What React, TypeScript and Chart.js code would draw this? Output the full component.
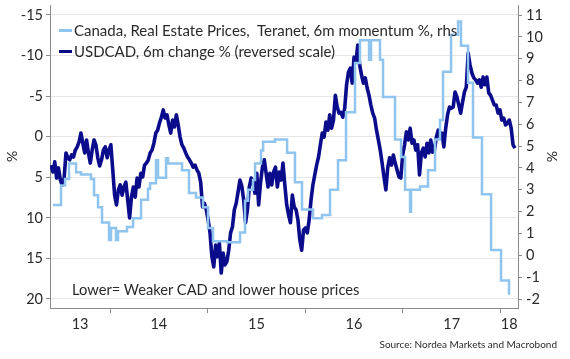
import React, { useEffect, useRef } from 'react';
import { Chart, registerables } from 'chart.js';

Chart.register(...registerables);

const FONT = 'Lato, "Open Sans", sans-serif';

// USDCAD, 6m change % (left axis, reversed) - weekly observations
const usdcadFirstWeek = 2013.3955; // decimal year of first observation
const usdcad6mChange = [
  3.5, 4.35, 3.1, 5.1, 3.85, 5.35, 5.95, 5.1, 2.0, 2.6,
  2.85, 2.25, 2.5, 1.65, 1.25, 0.65, -0.45, 0.8, 2.0, 0.4,
  2.0, 3.25, 1.65, 0.4, 1.0, 2.6, 3.6, 2.85, 1.65, 1.25,
  2.6, 1.65, 1.0, 4.1, 7.2, 8.4, 6.55, 5.95, 7.2, 6.2,
  5.6, 7.8, 10.0, 7.45, 6.2, 7.45, 5.1, 6.2, 4.5, 4.95,
  3.5, 3.25, 2.85, 2.0, 1.65, 0.8, -0.45, -0.8, -1.7, -2.4,
  -3.3, -2.3, -2.7, -1.45, -0.45, -2.05, -1.2, -2.7, -1.45, 0.05,
  1.0, 1.4, 2.0, 2.5, 2.85, 3.25, 3.75, 3.5, 4.1, 4.5,
  5.6, 8.65, 8.2, 9.0, 10.25, 11.85, 14.8, 16.05, 13.35, 14.8,
  13.1, 16.8, 14.35, 15.8, 15.4, 14.0, 11.85, 11.1, 9.0, 8.2,
  6.8, 5.35, 6.1, 7.8, 10.6, 9.0, 6.2, 5.1, 5.6, 6.95,
  4.5, 8.4, 5.7, 3.75, 2.85, 4.5, 6.2, 4.5, 5.95, 4.35,
  3.75, 6.2, 4.35, 5.35, 3.25, 5.95, 8.4, 9.65, 10.6, 7.2,
  8.65, 9.0, 10.25, 12.7, 14.0, 11.5, 11.25, 11.85, 10.25, 7.8,
  5.95, 4.7, 3.5, 2.5, 1.0, -0.45, 0.05, -1.8, -0.8, -2.7,
  -1.05, -2.05, -5.1, -3.65, -2.9, -3.0, -2.4, -3.5, -6.4, -7.95,
  -8.45, -6.6, -9.8, -9.2, -11.3, -8.85, -7.6, -6.6, -7.25, -6.0,
  -5.1, -3.9, -2.9, -2.3, -0.8, 0.4, 1.65, 3.25, 4.95, 6.55,
  3.85, 2.6, 3.5, 2.25, 3.25, 4.1, 4.95, 5.1, 2.25, 1.0,
  -0.6, 0.4, -1.05, 0.8, 0.4, 1.65, 1.0, 4.7, 2.0, 1.4,
  2.5, 0.8, 2.0, 0.4, 1.9, 1.65, 0.05, -0.8, 0.05, -0.45,
  1.25, -1.05, -2.7, -3.65, -3.5, -3.65, -5.5, -4.9, -3.9, -2.9,
  -4.25, -5.5, -6.1, -10.3, -8.85, -7.85, -7.25, -7.0, -6.6, -7.0,
  -6.1, -7.35, -6.4, -7.35, -5.4, -5.1, -4.5, -3.9, -3.9, -2.9,
  -3.3, -2.05, -2.3, -1.45, -1.7, -2.05, -1.05, 1.0, 1.4,
];

// Canada real estate prices, Teranet, 6m momentum % (right axis) - step changes
const reDates = [
  2013.416, 2013.498, 2013.539, 2013.580, 2013.652, 2013.703, 2013.805, 2013.836, 2013.877, 2013.918,
  2013.990, 2014.010, 2014.061, 2014.082, 2014.174, 2014.236, 2014.318, 2014.389, 2014.410, 2014.471,
  2014.492, 2014.574, 2014.594, 2014.738, 2014.809, 2014.881, 2014.953, 2015.004, 2015.055, 2015.199,
  2015.332, 2015.383, 2015.414, 2015.465, 2015.486, 2015.547, 2015.568, 2015.691, 2015.814, 2015.895,
  2015.967, 2016.080, 2016.172, 2016.254, 2016.336, 2016.418, 2016.510, 2016.561, 2016.654, 2016.674,
  2016.766, 2016.797, 2016.920, 2016.982, 2017.023, 2017.074, 2017.084, 2017.176, 2017.258, 2017.330,
  2017.381, 2017.412, 2017.494, 2017.566, 2017.596, 2017.668, 2017.719, 2017.811, 2017.904, 2018.006,
  2018.088,
];
const reMomentum = [
  2.3, 3.2, 3.5, 4.2, 3.8, 3.7, 3.5, 2.75, 2.2, 1.5,
  0.7, 1.25, 0.7, 1.1, 1.3, 1.7, 2.55, 3.05, 3.3, 4.35,
  3.55, 4.45, 4.2, 3.9, 2.85, 2.65, 2.2, 1.25, 0.65, 0.6,
  1.05, 2.5, 3.0, 3.45, 4.2, 4.8, 5.2, 5.3, 4.7, 3.35,
  2.1, 1.7, 1.85, 3.0, 4.35, 6.55, 8.8, 9.85, 8.95, 9.85,
  8.95, 7.25, 5.3, 4.5, 3.0, 2.0, 3.0, 3.15, 3.9, 5.3,
  6.2, 8.4, 10.1, 10.7, 9.6, 7.9, 5.4, 2.8, 0.25, -1.15,
  -1.8,
];

const leftTicks = [-15, -10, -5, 0, 5, 10, 15, 20];
const rightTicks = [-2, -1, 0, 1, 2, 3, 4, 5, 6, 7, 8, 9, 10, 11];
const yearBoundaries = [2014, 2015, 2016, 2017, 2018];
const yearLabels = ['13', '14', '15', '16', '17', '18'];
const yearLabelPositions = [2013.693, 2014.5, 2015.5, 2016.5, 2017.5, 2018.09];

const seriesNames = [
  'Canada, Real Estate Prices,  Teranet, 6m momentum %, rhs',
  'USDCAD, 6m change % (reversed scale)',
];
const LIGHT = '#8fc4ef';
const NAVY = '#0a0c8c';
const AXIS = '#8a8a8a';
const TEXT = '#2a2a2a';

export default function App() {
  const ref = useRef<HTMLCanvasElement>(null);

  useEffect(() => {
    const usdData = usdcad6mChange.map((v, i) => ({ x: usdcadFirstWeek + (i * 7) / 365.25, y: v }));
    const reData = reMomentum.map((v, i) => ({ x: reDates[i], y: v }));
    const xTicks = [...yearLabelPositions, ...yearBoundaries].sort((a, b) => a - b);
    const isBoundary = (v: number) => yearBoundaries.some((b) => Math.abs(b - v) < 1e-6);

    const chart = new Chart(ref.current as HTMLCanvasElement, {
      type: 'line',
      data: {
        datasets: [
          {
            label: seriesNames[0],
            data: reData,
            yAxisID: 'y2',
            borderColor: LIGHT,
            backgroundColor: LIGHT,
            borderWidth: 2.5,
            stepped: 'before',
            pointRadius: 0,
            fill: false,
            order: 0,
          },
          {
            label: seriesNames[1],
            data: usdData,
            yAxisID: 'y',
            borderColor: NAVY,
            backgroundColor: NAVY,
            borderWidth: 3.6,
            borderJoinStyle: 'round',
            pointRadius: 0,
            tension: 0,
            fill: false,
            order: 1,
          },
        ],
      },
      options: {
        animation: false,
        responsive: true,
        maintainAspectRatio: false,
        layout: { padding: { top: 5, left: 0, right: 0, bottom: 0 } },
        plugins: { legend: { display: false }, tooltip: { enabled: false } },
        scales: {
          x: {
            type: 'linear',
            min: 2013.385,
            max: 2018.18,
            afterBuildTicks: (s: any) => {
              s.ticks = xTicks.map((v) => ({ value: v }));
            },
            afterFit: (s: any) => {
              s.height = 51;
              s.paddingLeft = 0;
              s.paddingRight = 0;
            },
            ticks: {
              autoSkip: false,
              maxRotation: 0,
              minRotation: 0,
              padding: 3,
              color: TEXT,
              font: { family: FONT, size: 14.5 },
              callback: (v: any) => {
                const i = yearLabelPositions.findIndex((p) => Math.abs(p - v) < 1e-6);
                return i >= 0 ? yearLabels[i] : '';
              },
            },
            grid: {
              drawOnChartArea: false,
              tickLength: 5,
              tickColor: (c: any) => (c.tick && isBoundary(c.tick.value) ? AXIS : 'rgba(0,0,0,0)'),
            },
            border: { color: AXIS, width: 1 },
          },
          y: {
            type: 'linear',
            position: 'left',
            reverse: true,
            min: -16.23,
            max: 21.11,
            afterBuildTicks: (s: any) => {
              s.ticks = leftTicks.map((v) => ({ value: v }));
            },
            afterFit: (s: any) => {
              s.width = 50;
              s.paddingTop = 0;
              s.paddingBottom = 0;
            },
            ticks: { padding: 3, color: TEXT, font: { family: FONT, size: 14.5 } },
            grid: { color: '#e6e6e6', tickColor: AXIS, tickLength: 4 },
            border: { color: AXIS, width: 1 },
            title: {
              display: true,
              text: '%',
              color: TEXT,
              font: { family: FONT, size: 14 },
              padding: { top: 3.6, bottom: 0 },
            },
          },
          y2: {
            type: 'linear',
            position: 'right',
            min: -2.41,
            max: 11.46,
            afterBuildTicks: (s: any) => {
              s.ticks = rightTicks.map((v) => ({ value: v }));
            },
            afterFit: (s: any) => {
              s.width = 52;
              s.paddingTop = 0;
              s.paddingBottom = 0;
            },
            ticks: { padding: 4, color: TEXT, font: { family: FONT, size: 14.5 } },
            grid: { drawOnChartArea: false, tickColor: AXIS, tickLength: 4 },
            border: { color: AXIS, width: 1 },
            title: {
              display: true,
              text: '%',
              color: TEXT,
              font: { family: FONT, size: 14 },
              padding: { top: 9.6, bottom: 0 },
            },
          },
        },
      },
    } as any);
    return () => chart.destroy();
  }, []);

  const rowStyle: React.CSSProperties = {
    position: 'absolute',
    left: 59,
    height: 20,
    lineHeight: '20px',
    fontSize: 15,
    color: TEXT,
    whiteSpace: 'pre',
    display: 'flex',
    alignItems: 'center',
  };
  const swatch = (color: string): React.CSSProperties => ({
    display: 'inline-block',
    width: 13,
    height: 3,
    background: color,
    marginRight: 2,
  });

  return (
    <div
      style={{
        position: 'fixed',
        left: 0,
        top: 0,
        width: 570,
        height: 359,
        background: '#fff',
        fontFamily: FONT,
      }}
    >
      <canvas ref={ref} />
      <div style={{ ...rowStyle, top: 20 }}>
        <span style={swatch(LIGHT)} />
        <span>{seriesNames[0]}</span>
      </div>
      <div style={{ ...rowStyle, top: 41 }}>
        <span style={swatch(NAVY)} />
        <span>{seriesNames[1]}</span>
      </div>
      <div
        style={{
          position: 'absolute',
          left: 72,
          top: 279,
          lineHeight: '20px',
          fontSize: 14.7,
          color: TEXT,
          whiteSpace: 'nowrap',
        }}
      >
        Lower= Weaker CAD and lower house prices
      </div>
      <div
        style={{
          position: 'absolute',
          right: 13,
          top: 337,
          lineHeight: '14px',
          fontSize: 10,
          color: TEXT,
          whiteSpace: 'nowrap',
        }}
      >
        Source: Nordea Markets and Macrobond
      </div>
    </div>
  );
}
